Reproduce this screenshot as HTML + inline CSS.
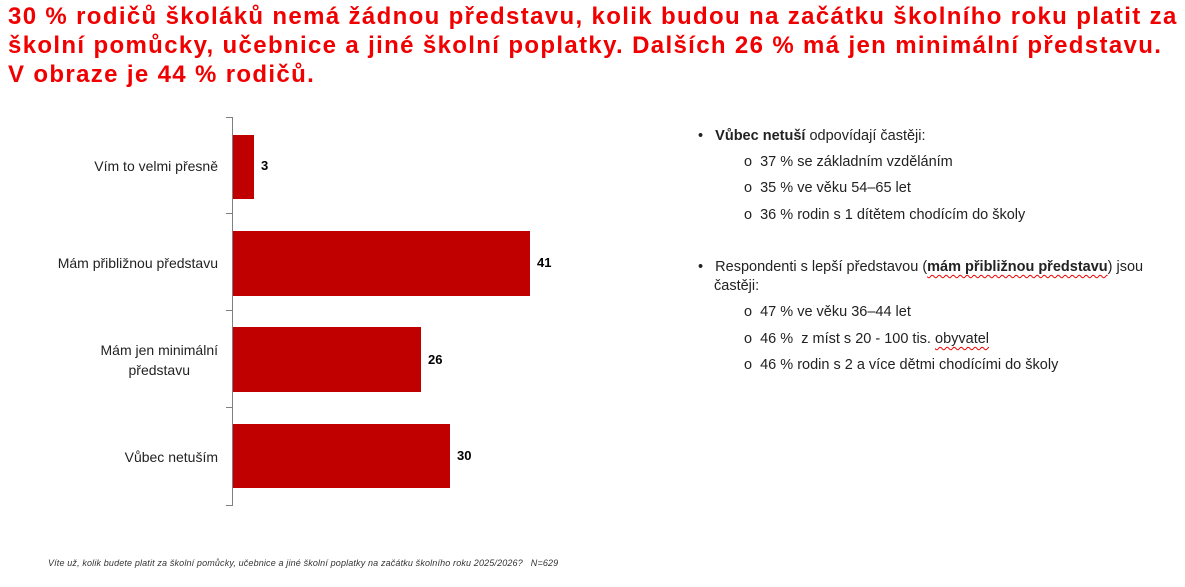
<!DOCTYPE html>
<html><head><meta charset="utf-8"><style>
body{margin:0;width:1185px;height:587px;background:#fff;position:relative;overflow:hidden;font-family:"Liberation Sans",sans-serif}
.t{position:absolute;left:8px;top:2px;color:#f00000;font-weight:bold;font-size:24px;line-height:29px;white-space:nowrap;letter-spacing:1.35px}
.a{position:absolute;background:#7f7f7f}
.bar{position:absolute;left:233px;background:#c00000}
.v{position:absolute;font-size:13px;font-weight:bold;color:#000}
.l{position:absolute;right:967px;font-size:14px;color:#222;text-align:center;line-height:20px}
.r{position:absolute;font-size:14.5px;color:#222;white-space:nowrap}
.f{position:absolute;left:48px;top:558px;font-size:9px;font-style:italic;color:#333;letter-spacing:0.15px}
u{text-decoration:underline wavy #e00;text-decoration-thickness:1px;text-underline-offset:3px}
</style></head><body>
<div class="t">30 % rodičů školáků nemá žádnou představu, kolik budou na začátku školního roku platit za<br>školní pomůcky, učebnice a jiné školní poplatky. Dalších 26 % má jen minimální představu.<br>V obraze je 44 % rodičů.</div>
<div class="a" style="left:232px;top:117px;width:1px;height:389px"></div>
<div class="a" style="left:226px;top:117px;width:6px;height:1px"></div>
<div class="a" style="left:226px;top:213px;width:6px;height:1px"></div>
<div class="a" style="left:226px;top:310px;width:6px;height:1px"></div>
<div class="a" style="left:226px;top:407px;width:6px;height:1px"></div>
<div class="a" style="left:226px;top:505px;width:6px;height:1px"></div>
<div class="bar" style="top:135px;width:21px;height:64px"></div>
<div class="bar" style="top:231px;width:297px;height:65px"></div>
<div class="bar" style="top:327px;width:188px;height:65px"></div>
<div class="bar" style="top:424px;width:217px;height:64px"></div>
<div class="v" style="left:261px;top:158px">3</div>
<div class="v" style="left:537px;top:255px">41</div>
<div class="v" style="left:428px;top:352px">26</div>
<div class="v" style="left:457px;top:448px">30</div>
<div class="l" style="top:156px">Vím to velmi přesně</div>
<div class="l" style="top:253px">Mám přibližnou představu</div>
<div class="l" style="top:340px">Mám jen minimální<br>představu</div>
<div class="l" style="top:447px">Vůbec netuším</div>
<div class="r" style="left:698px;top:128px">•&nbsp;&nbsp;&nbsp;<b>Vůbec netuší</b> odpovídají častěji:</div>
<div class="r" style="left:744px;top:154px">o&nbsp;&nbsp;37 % se základním vzděláním</div>
<div class="r" style="left:744px;top:180px">o&nbsp;&nbsp;35 % ve věku 54–65 let</div>
<div class="r" style="left:744px;top:207px">o&nbsp;&nbsp;36 % rodin s 1 dítětem chodícím do školy</div>
<div class="r" style="left:698px;top:259px">•&nbsp;&nbsp;&nbsp;Respondenti s lepší představou (<b><u>mám přibližnou představu</u></b>) jsou</div>
<div class="r" style="left:714px;top:278px">častěji:</div>
<div class="r" style="left:744px;top:304px">o&nbsp;&nbsp;47 % ve věku 36–44 let</div>
<div class="r" style="left:744px;top:331px">o&nbsp;&nbsp;46 %&nbsp; z míst s 20 - 100 tis. <u>obyvatel</u></div>
<div class="r" style="left:744px;top:357px">o&nbsp;&nbsp;46 % rodin s 2 a více dětmi chodícími do školy</div>
<div class="f">Víte už, kolik budete platit za školní pomůcky, učebnice a jiné školní poplatky na začátku školního roku 2025/2026?&nbsp;&nbsp;&nbsp;N=629</div>
</body></html>
